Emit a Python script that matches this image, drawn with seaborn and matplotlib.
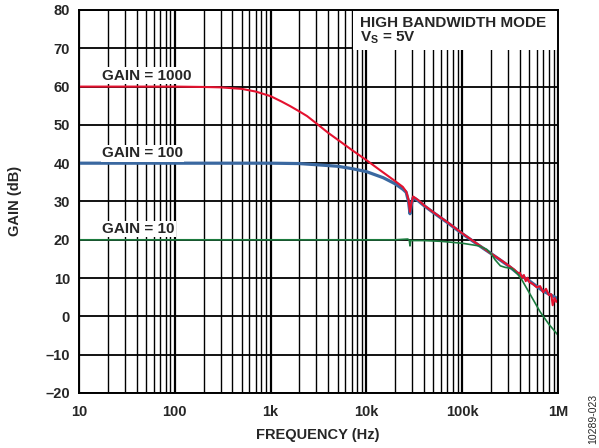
import numpy as np
import pandas as pd
import matplotlib
matplotlib.use("Agg")
import matplotlib.pyplot as plt
from matplotlib.ticker import LogLocator, NullFormatter
from matplotlib.patches import Rectangle
import seaborn as sns

# ------------------------------------------------
# Data
# ------------------------------------------------
freq_g1000 = [10, 100, 200, 300, 500, 700, 1000, 1300, 1600, 2000, 2400, 3000,
              4000, 5300, 7000, 10000, 14000, 20000, 24000, 26000, 27500, 28500,
              29500, 30700, 32000, 35000, 40000, 50000, 70000, 100000, 120000,
              150000, 200000, 250000, 300000, 350000, 380000, 400000, 420000,
              440000, 460000, 480000, 500000, 550000, 600000, 650000, 700000,
              750000, 800000, 850000, 880000, 920000, 960000, 1000000]
gain_g1000 = [60, 60, 59.9, 59.8, 59.4, 58.7, 57.5, 56.1, 54.9, 53.5, 52.3, 50.4,
              47.9, 45.7, 43.5, 40.8, 38.1, 35.3, 33.8, 32.6, 30.5, 27.3,
              29.5, 31.3, 31.0, 30.3, 29.0, 27.2, 24.6, 21.7, 20.3,
              18.6, 16.4, 14.8, 13.4, 12.2, 11.3, 11.4, 10.0,
              10.8, 9.2, 10.1, 9.0, 8.4, 7.6, 7.9, 6.3,
              7.2, 5.6, 5.8, 2.9, 4.8, 3.8, 4.3]

freq_g100 = [10, 1000, 2000, 3000, 5000, 7000, 10000, 15000, 20000, 24000, 26000,
             27500, 28500, 29500, 30700, 32000, 35000, 40000, 50000, 70000,
             100000, 150000, 200000, 300000, 400000, 500000, 700000, 1000000]
gain_g100 = [40, 40, 39.9, 39.6, 39.2, 38.6, 37.8, 36.2, 34.6, 33.2, 32.4,
             30.0, 26.8, 29.3, 31.0, 30.8, 30.1, 28.9, 27.1, 24.5,
             21.6, 18.5, 16.4, 13.3, 10.8, 9.3, 6.6, 4.6]

freq_g10 = [10, 20000, 27000, 28000, 28500, 29000, 30000, 40000, 60000, 100000,
            150000, 180000, 200000, 220000, 250000, 280000, 330000, 380000,
            420000, 500000, 650000, 800000, 1000000]
gain_g10 = [20, 20, 20.2, 19.9, 18.4, 19.9, 19.8, 19.8, 19.6, 19.1,
            18.4, 17.5, 16.4, 14.8, 13.2, 12.8, 12.5, 11.0,
            9.5, 6.2, 1.2, -2.0, -4.9]

x_ticks = [10, 100, 1000, 10000, 100000, 1000000]
x_tick_labels = ['10', '100', '1k', '10k', '100k', '1M']
y_ticks = [-20, -10, 0, 10, 20, 30, 40, 50, 60, 70, 80]
y_tick_labels = ['–20', '–10', '0', '10', '20', '30', '40', '50', '60', '70', '80']

df_1000 = pd.DataFrame({'freq': freq_g1000, 'gain': gain_g1000})
df_100 = pd.DataFrame({'freq': freq_g100, 'gain': gain_g100})
df_10 = pd.DataFrame({'freq': freq_g10, 'gain': gain_g10})

# ------------------------------------------------
# Style
# ------------------------------------------------
sns.set_theme(style="white")
plt.rcParams['font.family'] = ['Liberation Sans', 'DejaVu Sans']
plt.rcParams['mathtext.fontset'] = 'custom'
plt.rcParams['mathtext.rm'] = 'Liberation Sans'
plt.rcParams['mathtext.bf'] = 'Liberation Sans:bold'

fig = plt.figure(figsize=(5.99, 4.48), dpi=100)
ax = fig.add_axes([0.1319, 0.1228, 0.7997, 0.8549])

# ------------------------------------------------
# Curves
# ------------------------------------------------
sns.lineplot(data=df_100, x='freq', y='gain', color='#3A68A0', lw=2.3,
             estimator=None, sort=False, ax=ax)
sns.lineplot(data=df_1000, x='freq', y='gain', color='#E4122F', lw=1.5,
             estimator=None, sort=False, ax=ax)
sns.lineplot(data=df_10, x='freq', y='gain', color='#1B7B3E', lw=1.2,
             estimator=None, sort=False, ax=ax)

ax.set_xscale('log')
ax.set_xlim(10, 1e6)
ax.set_ylim(-20, 80)
ax.set_xticks(x_ticks)
ax.set_xticklabels(x_tick_labels)
ax.set_yticks(y_ticks)
ax.set_yticklabels(y_tick_labels)
ax.xaxis.set_minor_locator(LogLocator(base=10, subs=np.arange(2, 10)))
ax.xaxis.set_minor_formatter(NullFormatter())

ax.grid(True, which='major', axis='x', color='black', lw=1.6)
ax.grid(True, which='minor', axis='x', color='black', lw=1.0)
ax.grid(True, which='major', axis='y', color='black', lw=1.3)
ax.set_axisbelow(True)

ax.tick_params(axis='both', which='both', length=0, labelsize=10.5)
ax.tick_params(axis='y', pad=6.5)
ax.tick_params(axis='x', pad=9)
for lbl in ax.get_xticklabels() + ax.get_yticklabels():
    lbl.set_fontweight('bold')
for sp in ax.spines.values():
    sp.set_color('black')
    sp.set_linewidth(1.4)

ax.set_xlabel('')
ax.set_ylabel('')
fig.text(318 / 599, 1 - 435 / 448, 'FREQUENCY (Hz)', ha='center', va='center',
         fontsize=10.5, fontweight='bold')
fig.text(15 / 599, 1 - 201 / 448, 'GAIN (dB)', ha='center', va='center',
         rotation=90, fontsize=10.5, fontweight='bold')
fig.text(593 / 599, 1 - 419 / 448, '10289-023', ha='center', va='center',
         rotation=90, fontsize=7.5)

# Curve labels
label_box = dict(facecolor='white', edgecolor='none', pad=1.0)
ax.text(17.4, 62.8, 'GAIN = 1000', fontsize=11, fontweight='bold',
        ha='left', va='center', bbox=label_box, zorder=4)
ax.text(17.4, 42.6, 'GAIN = 100', fontsize=11, fontweight='bold',
        ha='left', va='center', bbox=label_box, zorder=4)
ax.text(17.4, 22.8, 'GAIN = 10', fontsize=11, fontweight='bold',
        ha='left', va='center', bbox=label_box, zorder=4)

# Condition box in the top right corner
ax.add_patch(Rectangle((0.572, 0.8956), 0.428, 0.1044, transform=ax.transAxes,
                       facecolor='white', edgecolor='none', zorder=1.5))
ax.text(0.5866, 0.9564, 'HIGH BANDWIDTH MODE', transform=ax.transAxes,
        fontsize=11, fontweight='bold', ha='left', va='baseline', zorder=4)
ax.text(0.5866, 0.9172, r'V$_\mathbf{S}$ = 5V', transform=ax.transAxes,
        fontsize=11, fontweight='bold', ha='left', va='baseline', zorder=4)

ax.legend_ = None
fig.savefig('out.png', dpi=100)
